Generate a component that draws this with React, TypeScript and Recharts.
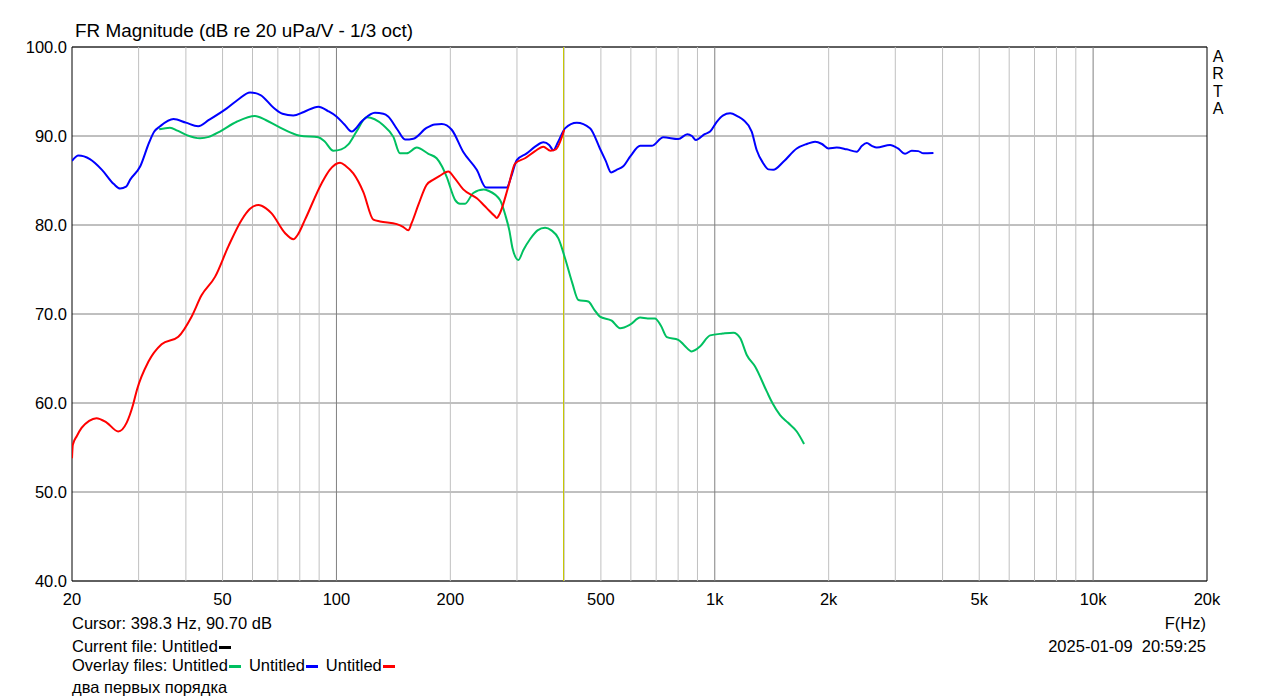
import React from "react";
import { LineChart, Line, XAxis, YAxis, CartesianGrid, ReferenceLine, ReferenceArea } from "recharts";

// Frequencies (Hz) and levels (dB)
const blueFreq = [20, 20.8, 22.3, 24.0, 25.8, 26.8, 27.8, 28.5, 30.3, 32.0, 33.0, 34.2, 37.1, 40, 43.1, 46, 51.3, 55, 59.1, 63, 68.1, 72, 76.9, 82, 89.6, 95, 100, 105, 109.7, 117, 126.4, 133, 137, 145, 151.8, 159.7, 173, 182, 189.9, 201.7, 216.4, 234.9, 248.6, 265, 281.9, 290, 299.7, 318.4, 335, 352.4, 365, 374.4, 385, 402, 431.7, 468, 497, 515, 532, 550, 573, 600, 635, 681, 731, 801, 846, 870, 891, 940, 972, 1012, 1050, 1098, 1150, 1190, 1252, 1291, 1340, 1386, 1428, 1518, 1647, 1750, 1841, 1920, 1996, 2100, 2232, 2374, 2450, 2522, 2600, 2680, 2906, 3050, 3184, 3316, 3450, 3560, 3784];
const blueDb = [87.2, 87.8, 87.4, 86.2, 84.6, 84.1, 84.3, 85.1, 86.6, 89.3, 90.5, 91.1, 91.9, 91.5, 91.1, 91.8, 93.1, 94.1, 94.9, 94.6, 93.2, 92.5, 92.3, 92.7, 93.3, 92.8, 92.2, 91.3, 90.5, 91.7, 92.6, 92.5, 92.2, 90.7, 89.6, 89.7, 90.9, 91.3, 91.35, 90.7, 88.2, 86.2, 84.2, 84.2, 84.2, 85.5, 87.3, 88.05, 88.8, 89.3, 89.0, 88.4, 89.3, 90.86, 91.5, 90.86, 88.6, 87.2, 85.9, 86.2, 86.6, 87.8, 88.9, 88.9, 89.85, 89.66, 90.2, 90.0, 89.55, 90.2, 90.5, 91.6, 92.3, 92.55, 92.2, 91.8, 90.5, 88.4, 87.0, 86.25, 86.2, 87.1, 88.6, 89.1, 89.36, 89.1, 88.6, 88.7, 88.5, 88.24, 88.9, 89.2, 88.9, 88.7, 89.0, 88.6, 88.0, 88.35, 88.3, 88.05, 88.1];

const greenFreq = [34, 36.3, 38, 40.2, 43.6, 46, 49.2, 54.5, 60.9, 65, 70.2, 80.1, 89.6, 93, 98.1, 103, 107.5, 113, 120.2, 133, 141.4, 147.2, 153.4, 163, 175, 184, 190, 195.6, 206, 212, 218.8, 230, 245, 252, 270.6, 280, 286.4, 292, 302.7, 312, 324.8, 340, 356, 370, 386, 402, 420, 436, 463, 480, 497, 534, 562, 597, 635, 665, 695, 720, 747, 801, 830, 869, 914, 972, 1050, 1120, 1167, 1215, 1278, 1372, 1420, 1488, 1560, 1647, 1722];
const greenDb = [90.75, 90.93, 90.6, 90.1, 89.74, 89.9, 90.5, 91.6, 92.25, 91.8, 91.05, 90.03, 89.85, 89.4, 88.35, 88.5, 89.06, 90.5, 92.1, 91.2, 89.9, 88.05, 88.05, 88.7, 88.0, 87.5, 86.6, 85.4, 82.8, 82.4, 82.4, 83.6, 84.0, 83.85, 82.8, 81.0, 79.4, 77.4, 76.07, 77.2, 78.4, 79.4, 79.7, 79.4, 78.5, 76.26, 73.5, 71.57, 71.4, 70.5, 69.7, 69.25, 68.4, 68.8, 69.6, 69.5, 69.5, 68.7, 67.4, 67.1, 66.5, 65.8, 66.35, 67.6, 67.8, 67.9, 67.3, 65.4, 64.1, 61.3, 60.0, 58.65, 57.8, 56.8, 55.4];

const redFreq = [20, 20.1, 20.6, 21.2, 22.2, 23.2, 24.7, 26.5, 27.9, 29.0, 29.7, 31.8, 34.5, 38.2, 41.4, 44, 47.8, 51.8, 56.2, 59, 62.2, 65, 67.4, 73.1, 77, 79, 82.6, 91.4, 96, 102.2, 106, 110.8, 117.8, 125.2, 130.4, 144.4, 150, 154.9, 158, 164.6, 173, 180.4, 187, 197.6, 205, 216.4, 235, 249.6, 262, 265.3, 270.3, 284.6, 296.5, 315, 335, 352, 368, 380, 400];
const redDb = [53.8, 55.3, 56.3, 57.2, 58.0, 58.3, 57.8, 56.8, 57.8, 59.8, 61.5, 64.6, 66.6, 67.45, 69.7, 72.1, 74.2, 77.6, 80.6, 81.8, 82.25, 81.9, 81.3, 79.1, 78.4, 78.9, 80.6, 84.7, 86.2, 87.0, 86.6, 85.8, 83.7, 80.6, 80.4, 80.1, 79.8, 79.4, 80.2, 82.25, 84.5, 85.1, 85.5, 86.0, 85.3, 84.0, 83.0, 81.9, 81.0, 80.8, 81.3, 84.3, 86.9, 87.5, 88.3, 88.8, 88.35, 88.5, 90.7];

const xTicks = [20, 50, 100, 200, 500, 1000, 2000, 5000, 10000, 20000];
const yTicks = [40, 50, 60, 70, 80, 90, 100];
const minorGrid = [30, 40, 50, 60, 70, 80, 90, 200, 300, 400, 500, 600, 700, 800, 900, 2000, 3000, 4000, 5000, 6000, 7000, 8000, 9000];
const majorGrid = [100, 1000, 10000];
const cursorFreq = 398.3;

const toSeries = (f: number[], v: number[]) => f.map((x, i) => ({ f: x, db: v[i] }));
const blueData = toSeries(blueFreq, blueDb);
const greenData = toSeries(greenFreq, greenDb);
const redData = toSeries(redFreq, redDb);

const fmtX = (v: number) => (v >= 1000 ? `${v / 1000}k` : `${v}`);
const FONT = "'Liberation Sans', Arial, sans-serif";
const FS = 16.5;

const txt: React.CSSProperties = { position: "absolute", fontSize: FS, lineHeight: `${FS}px`, whiteSpace: "nowrap", color: "#000" };
const dash = (c: string): React.CSSProperties => ({ display: "inline-block", width: 12, height: 3, background: c, verticalAlign: "middle", marginLeft: 1, marginRight: 8 });

export default function App() {
  return (
    <div style={{ position: "relative", width: 1263, height: 691, overflow: "visible", fontFamily: FONT, background: "#fff" }}>
      <LineChart width={1263} height={683} data={blueData} margin={{ top: 39, right: 64, bottom: 80, left: 4 }} style={{ fontFamily: FONT }}>
        <CartesianGrid vertical={false} stroke="#808080" strokeDasharray="" />
        {minorGrid.map((g) => (
          <ReferenceLine key={"m" + g} x={g} stroke="#c0c0c0" strokeWidth={1} />
        ))}
        {majorGrid.map((g) => (
          <ReferenceLine key={"M" + g} x={g} stroke="#808080" strokeWidth={1} />
        ))}
        <XAxis
          dataKey="f"
          type="number"
          scale="log"
          domain={[20, 20000]}
          ticks={xTicks}
          tickFormatter={fmtX}
          allowDataOverflow
          axisLine={false}
          tickLine={false}
          tickSize={0}
          tickMargin={12}
          tick={{ fill: "#000", fontSize: FS }}
          interval={0}
        />
        <YAxis
          type="number"
          domain={[40, 100]}
          ticks={yTicks}
          tickFormatter={(v: number) => v.toFixed(1)}
          width={60}
          axisLine={false}
          tickLine={false}
          tickSize={0}
          tickMargin={5}
          tick={{ fill: "#000", fontSize: FS }}
          interval={0}
          allowDataOverflow
        />
        <ReferenceLine x={cursorFreq} stroke="#c8c800" strokeWidth={1} />
        <Line data={greenData} dataKey="db" type="monotone" stroke="#00c060" strokeWidth={2} dot={false} isAnimationActive={false} />
        <Line data={blueData} dataKey="db" type="monotone" stroke="#0000ff" strokeWidth={2} dot={false} isAnimationActive={false} />
        <Line data={redData} dataKey="db" type="monotone" stroke="#ff0000" strokeWidth={2} dot={false} isAnimationActive={false} />
        <ReferenceArea x1={20} x2={20000} y1={40} y2={100} fill="none" fillOpacity={0} stroke="#000" strokeWidth={1} ifOverflow="visible" />
      </LineChart>

      <div style={{ ...txt, left: 67, top: 14, fontSize: 18.9, lineHeight: "18.9px" }}>FR Magnitude (dB re 20 uPa/V - 1/3 oct)</div>
      <div style={{ ...txt, left: 1204, top: 40, fontSize: 16, lineHeight: "17.3px", width: 12, textAlign: "center" }}>
        A<br />R<br />T<br />A
      </div>
      <div style={{ ...txt, left: 64, top: 607.3 }}>Cursor: 398.3 Hz, 90.70 dB</div>
      <div style={{ ...txt, left: 64, top: 630 }}>
        Current file: Untitled<span style={dash("#000")} />
      </div>
      <div style={{ ...txt, left: 64, top: 648.7 }}>
        Overlay files: Untitled<span style={dash("#00c060")} />Untitled<span style={dash("#0000ff")} />Untitled<span style={dash("#ff0000")} />
      </div>
      <div style={{ ...txt, left: 64, top: 668.5, lineHeight: "20px" }}>два первых порядка</div>
      <div style={{ ...txt, right: 1263 - 1198, top: 607 }}>F(Hz)</div>
      <div style={{ ...txt, right: 1263 - 1198, top: 629.5 }}>2025-01-09&nbsp;&nbsp;20:59:25</div>
    </div>
  );
}
